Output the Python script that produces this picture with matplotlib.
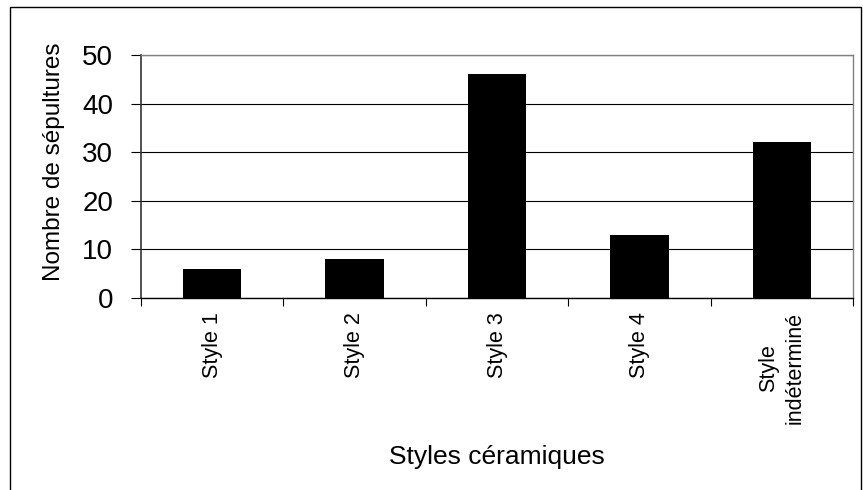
import matplotlib
matplotlib.use("Agg")
import matplotlib.pyplot as plt
from matplotlib.patches import Rectangle

categories = ["Style 1", "Style 2", "Style 3", "Style 4", "Style\nindéterminé"]
values = [6, 8, 46, 13, 32]
yticks = [0, 10, 20, 30, 40, 50]

plt.rcParams['font.family'] = ['Liberation Sans', 'DejaVu Sans']

fig = plt.figure(figsize=(8.63, 4.9), dpi=100)
W, H = 863, 490
# outer chart frame (bottom edge lies outside the image)
fig.patches.append(Rectangle((10 / W, -0.05), (861 - 10) / W, 1.05 - 7 / H,
                             transform=fig.transFigure, fill=False, edgecolor='black', linewidth=1.0))

ax = fig.add_axes([141 / W, 1 - 298 / H, (853 - 141) / W, (298 - 55) / H])
x = list(range(len(categories)))
ax.bar(x, values, width=0.41, color='black', zorder=3)
ax.set_xlim(-0.5, len(categories) - 0.5)
ax.set_ylim(0, 50)
ax.set_yticks(yticks)
ax.set_yticklabels([str(v) for v in yticks], fontsize=20)
ax.yaxis.grid(True, color='black', linewidth=0.8, zorder=0)
ax.set_xticks([i + 0.5 for i in range(-1, len(categories))])
ax.set_xticklabels([])
ax.set_xticks(x, minor=True)
ax.set_xticklabels(categories, minor=True, rotation=90, fontsize=15.5, va='top', ha='center',
                   multialignment='center', linespacing=1.3)
ax.tick_params(axis='x', which='minor', length=0, pad=10)
ax.tick_params(axis='x', which='major', length=6, direction='out', width=0.8)
ax.tick_params(axis='y', length=7, direction='out', width=0.8, pad=13)
for s in ['top', 'right']:
    ax.spines[s].set_color('#808080')
    ax.spines[s].set_linewidth(1.0)
ax.spines['left'].set_color('#333333')
ax.spines['left'].set_linewidth(1.2)
ax.spines['bottom'].set_color('black')
ax.spines['bottom'].set_linewidth(1.0)
ax.set_ylabel("Nombre de sépultures", fontsize=17.5, labelpad=10)
ax.yaxis.set_label_coords(-0.107, 0.56)
ax.set_xlabel("Styles céramiques", fontsize=19, labelpad=15)

fig.savefig("out.png", dpi=100)
